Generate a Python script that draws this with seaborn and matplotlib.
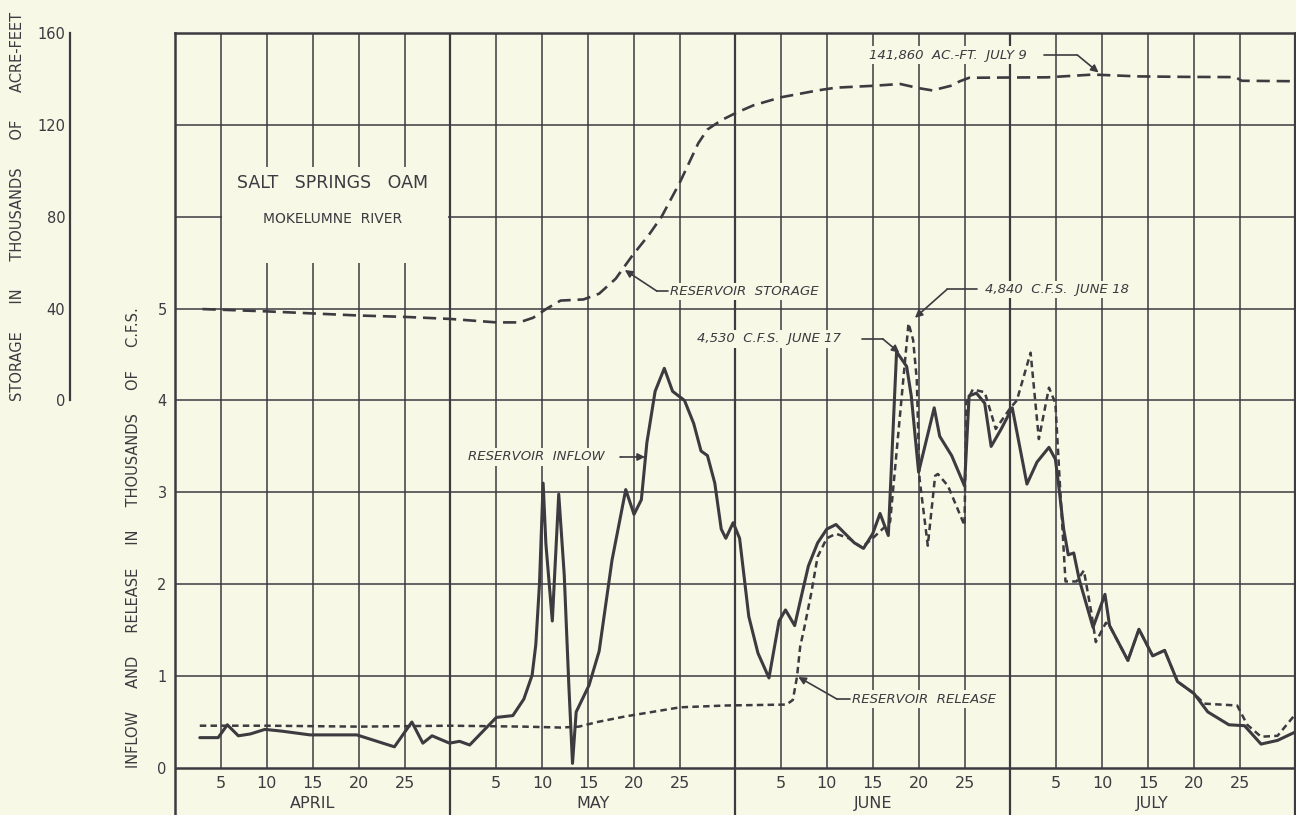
# Salt Springs Dam (Mokelumne River): inflow, release and storage, April - July
import pandas as pd
import seaborn as sns
import matplotlib.pyplot as plt
from matplotlib.patches import Rectangle

# day index counted from March 31 (April 1 = 1, May 1 = 31, June 1 = 62, July 1 = 92)
inflow_day = [2.7, 4.7, 5.7, 6.9, 8.2, 9.8, 11.7, 14.7, 19.8, 23.9, 25.8, 27.0, 28.0, 29.9,
              31.0, 32.1, 35.0, 36.8, 38.0, 38.9, 39.3, 39.7, 40.1, 40.4, 41.1, 41.8, 42.4,
              42.9, 43.3, 43.7, 45.1, 46.2, 47.6, 49.1, 50.0, 50.8, 51.4, 52.3, 53.3, 54.2,
              55.5, 56.5, 57.3, 58.0, 58.8, 59.5, 60.0, 60.8, 61.5, 62.5, 63.5, 64.7, 65.8,
              66.5, 67.5, 68.3, 69.0, 70.0, 71.0, 72.0, 73.0, 74.0, 75.0, 76.0, 76.8, 77.7,
              78.6, 79.7, 80.2, 81.0, 82.7, 83.3, 84.6, 86.0, 86.5, 87.3, 88.2, 88.9, 90.0,
              91.2, 92.8, 93.9, 95.2, 95.9, 96.3, 96.8, 97.3, 97.9, 98.5, 100.0, 101.3, 101.8,
              103.8, 105.0, 106.5, 107.8, 109.2, 111.0, 112.5, 114.8, 116.5, 118.3, 120.1, 122.0]
inflow_kcfs = [0.33, 0.33, 0.47, 0.35, 0.37, 0.42, 0.40, 0.36, 0.36, 0.23, 0.50, 0.27, 0.35, 0.27,
               0.29, 0.25, 0.55, 0.57, 0.75, 1.01, 1.34, 2.0, 3.1, 2.44, 1.6, 2.98, 2.1,
               0.9, 0.05, 0.61, 0.9, 1.27, 2.26, 3.03, 2.76, 2.92, 3.54, 4.1, 4.35, 4.1,
               4.0, 3.75, 3.45, 3.4, 3.1, 2.6, 2.5, 2.67, 2.5, 1.65, 1.25, 0.98, 1.6,
               1.72, 1.55, 1.9, 2.2, 2.45, 2.6, 2.65, 2.55, 2.45, 2.39, 2.55, 2.77, 2.53,
               4.53, 4.37, 4.05, 3.22, 3.92, 3.61, 3.4, 3.07, 4.05, 4.08, 3.97, 3.5, 3.69,
               3.92, 3.09, 3.33, 3.49, 3.36, 3.04, 2.6, 2.32, 2.34, 2.05, 1.53, 1.89, 1.55,
               1.17, 1.51, 1.22, 1.28, 0.94, 0.81, 0.61, 0.47, 0.46, 0.26, 0.30, 0.39]

release_day = [2.7, 10, 20, 30, 38, 42, 44, 46, 49, 52, 55, 60, 66.6, 67.3, 67.75, 68.1, 68.6,
               69.3, 70.0, 71.0, 72.0, 73.4, 74.8, 76.0, 77.9, 79.0, 79.9, 80.4, 80.8, 81.1,
               82.0, 82.8, 83.1, 84.2, 86.0, 86.2, 86.9, 88.2, 88.9, 89.4, 91.0, 91.7, 93.2,
               94.1, 95.2, 95.9, 96.4, 97.0, 98.2, 99.0, 99.8, 100.3, 101.4, 101.8, 103.8,
               105.0, 106.5, 107.8, 109.2, 111.0, 112.1, 115.7, 116.8, 118.3, 120.1, 122.0]
release_kcfs = [0.46, 0.46, 0.45, 0.46, 0.45, 0.44, 0.45, 0.50, 0.56, 0.61, 0.66, 0.68, 0.69, 0.74,
                0.99, 1.32, 1.55, 1.9, 2.3, 2.5, 2.55, 2.5, 2.4, 2.5, 2.68, 3.87, 4.84, 4.66,
                4.23, 3.15, 2.42, 3.18, 3.2, 3.07, 2.64, 3.98, 4.12, 4.09, 3.86, 3.69, 3.92,
                4.0, 4.52, 3.58, 4.14, 3.97, 3.07, 2.03, 2.03, 2.15, 1.7, 1.37, 1.58, 1.55,
                1.17, 1.51, 1.22, 1.28, 0.94, 0.81, 0.7, 0.68, 0.47, 0.34, 0.35, 0.58]

storage_day = [3, 10, 20, 25, 30, 35, 37.5, 39, 40.5, 42, 44.5, 46.2, 48, 49.8, 51.6, 53, 55,
               57, 58, 59.5, 61, 63, 66, 70, 72, 76, 79, 81, 82.5, 84.5, 85.5, 86.5, 90, 95,
               100, 105, 110, 115.5, 116.2, 122]
storage_kaf = [39.8, 38.8, 37.0, 36.4, 35.5, 34.0, 34.0, 36.0, 40.0, 43.5, 44.0, 46.5, 53, 63,
               72, 80, 95, 112, 118, 122, 125, 128.5, 132, 135, 136.2, 137, 137.8, 136, 135,
               137, 139, 140.5, 140.6, 140.7, 141.9, 141.1, 140.9, 140.8, 139.2, 139]

months = ['APRIL', 'MAY', 'JUNE', 'JULY']
month_start = [0, 30, 61, 91]
month_len = [30, 31, 30, 31]
day_marks = [5, 10, 15, 20, 25]
flow_ticks = [0, 1, 2, 3, 4, 5]
storage_ticks = [0, 40, 80, 120, 160]

bg = '#f7f8e6'
ink = '#3b3b40'

sns.set_style('white')
plt.rcParams['font.family'] = ['DejaVu Sans']
plt.rcParams['text.color'] = ink

W, H = 1296, 815
fig = plt.figure(figsize=(W / 100, H / 100), dpi=100, facecolor=bg)
ax = fig.add_axes([175 / W, 0, 1120 / W, 782 / H])
ax.set_facecolor(bg)
ax.set_xlim(0, 122)
ymin = -0.512
ax.set_ylim(ymin, 8)

# grid: every 5 days inside a month, month boundaries run down through the label strip
for m0, ml in zip(month_start, month_len):
    for d in day_marks:
        ax.vlines(m0 + d, 0, 8, color=ink, lw=1.1, zorder=1)
    ax.vlines(m0 + ml, ymin, 8, color=ink, lw=1.6, zorder=1)
ax.hlines(range(1, 8), 0, 122, color=ink, lw=1.1, zorder=1)
ax.hlines(0, 0, 122, color=ink, lw=1.8, zorder=1)

# blank panel behind the title
ax.add_patch(Rectangle((5.1, 5.5), 24.6, 1.04, fc=bg, ec='none', zorder=1.5))

for s in ['left', 'top', 'right']:
    ax.spines[s].set_color(ink)
    ax.spines[s].set_linewidth(1.8)
ax.spines['bottom'].set_visible(False)

ax.set_xticks([])
ax.set_yticks(flow_ticks)
ax.set_yticklabels([str(t) for t in flow_ticks])
ax.tick_params(axis='y', length=0, pad=6, labelsize=10.5, labelcolor=ink)

for m0, ml, name in zip(month_start, month_len, months):
    for d in day_marks:
        ax.text(m0 + d, -0.17, str(d), ha='center', va='center', fontsize=11.5)
    ax.text(m0 + ml / 2, -0.39, name, ha='center', va='center', fontsize=11.5)

# flows
sns.lineplot(x=inflow_day, y=inflow_kcfs, ax=ax, color=ink, lw=2.2, sort=False,
             estimator=None, zorder=3)
sns.lineplot(x=release_day, y=release_kcfs, ax=ax, color=ink, lw=1.8, sort=False,
             estimator=None, linestyle=(0, (2.6, 1.7)), zorder=3)

# storage on its own scale: 40,000 ac-ft per grid step, zero at flow 4
smin, smax = (ymin - 4) * 40, 160
tw = ax.twinx()
tw.set_ylim(smin, smax)
tw.axis('off')
sns.lineplot(x=storage_day, y=storage_kaf, ax=tw, color=ink, lw=1.9, sort=False,
             estimator=None, linestyle=(0, (5, 2.6)), zorder=3)

axs = fig.add_axes([70 / W, 0, 0.01, 782 / H])
axs.patch.set_visible(False)
axs.set_ylim(smin, smax)
for s in ['top', 'right', 'bottom']:
    axs.spines[s].set_visible(False)
axs.spines['left'].set_bounds(0, 160)
axs.spines['left'].set_color(ink)
axs.spines['left'].set_linewidth(1.6)
axs.set_xticks([])
axs.set_yticks(storage_ticks)
axs.set_yticklabels([str(t) for t in storage_ticks])
axs.tick_params(axis='y', direction='in', length=11.5, width=1.5, color=ink,
                pad=3.5, labelsize=10.5, labelcolor=ink)

fig.text(18 / W, 1 - 206 / H, 'STORAGE      IN      THOUSANDS      OF      ACRE-FEET',
         rotation=90, ha='center', va='center', fontsize=10.5)
fig.text(134 / W, 1 - 538 / H, 'INFLOW     AND     RELEASE     IN     THOUSANDS     OF     C.F.S.',
         rotation=90, ha='center', va='center', fontsize=10.5)

# title
ax.text(17.2, 6.37, 'SALT   SPRINGS   OAM', ha='center', va='center', fontsize=12.5, zorder=4)
ax.text(17.2, 5.98, 'MOKELUMNE  RIVER', ha='center', va='center', fontsize=10, zorder=4)


def leader(label, tx, ty, path, tip):
    ax.text(tx, ty, label, style='italic', fontsize=9.5, ha='left', va='center', zorder=4,
            bbox=dict(fc=bg, ec='none', pad=1.5))
    xs = [p[0] for p in path]
    ys = [p[1] for p in path]
    ax.plot(xs, ys, color=ink, lw=1.2, zorder=4)
    ax.annotate('', xy=tip, xytext=path[-1], zorder=4,
                arrowprops=dict(arrowstyle='-|>', color=ink, lw=1.2, mutation_scale=11,
                                shrinkA=0, shrinkB=0))


leader('141,860  AC.-FT.  JULY 9', 75.6, 7.76, [(94.7, 7.76), (98.3, 7.76)], (100.6, 7.57))
leader('RESERVOIR  STORAGE', 53.9, 5.19, [(53.7, 5.19), (52.5, 5.19)], (49.0, 5.42))
leader('4,840  C.F.S.  JUNE 18', 88.2, 5.21, [(87.4, 5.21), (84.1, 5.21)], (80.6, 4.9))
leader('4,530  C.F.S.  JUNE 17', 56.9, 4.67, [(74.8, 4.67), (77.1, 4.67)], (78.9, 4.52))
leader('RESERVOIR  INFLOW', 31.9, 3.385, [(48.5, 3.385), (48.6, 3.385)], (51.2, 3.385))
leader('RESERVOIR  RELEASE', 73.7, 0.75, [(73.5, 0.75), (72.1, 0.75)], (67.9, 0.99))

fig.savefig('out.png', dpi=100, facecolor=bg)
